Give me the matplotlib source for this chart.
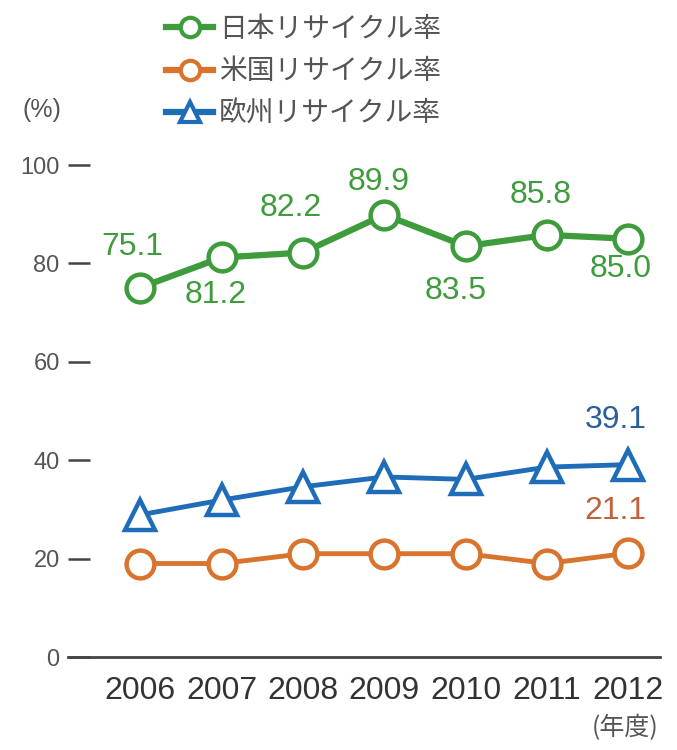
import matplotlib.pyplot as plt
from matplotlib.lines import Line2D

# データ
years = [2006, 2007, 2008, 2009, 2010, 2011, 2012]
japan = [75.1, 81.2, 82.2, 89.9, 83.5, 85.8, 85.0]
usa = [19.0, 19.0, 21.0, 21.0, 21.0, 19.0, 21.1]
europe = [28.9, 31.9, 34.6, 36.6, 36.1, 38.6, 39.1]
yticks = [0, 20, 40, 60, 80, 100]

# ラベル位置 (px)
japan_offsets = [(-8, 41), (-6, -38), (-12, 45), (-6, 33), (-10, -45), (-6, 40), (-8, -30)]

green = '#3f9c3c'
orange = '#d9742e'
blue = '#1f6db8'
gray = '#555555'
sans = 'Liberation Sans'
cjk = ['Noto Sans CJK JP', 'DejaVu Sans']

fig = plt.figure(figsize=(6.77, 7.5), dpi=100)
ax = fig.add_axes([68 / 677, 1 - 657 / 750, (660 - 68) / 677, (657 - 165) / 750])

ax.plot(years, japan, color=green, lw=4.5, marker='o', ms=20, mfc='white', mec=green, mew=3.2, zorder=3)
ax.plot(years, usa, color=orange, lw=3.5, marker='o', ms=20, mfc='white', mec=orange, mew=3.2, zorder=3)
ax.plot(years, europe, color=blue, lw=3.5, marker='^', ms=21, mfc='white', mec=blue, mew=3.2, zorder=3)

for x, v, off in zip(years, japan, japan_offsets):
    ax.annotate(f'{v:.1f}', (x, v), xytext=off, textcoords='offset pixels', ha='center', va='center',
                color=green, fontsize=23, family=sans, annotation_clip=False)
ax.annotate(f'{europe[-1]:.1f}', (years[-1], europe[-1]), xytext=(-13, 45), textcoords='offset pixels',
            ha='center', va='center', color='#2a5f9e', fontsize=23, family=sans)
ax.annotate(f'{usa[-1]:.1f}', (years[-1], usa[-1]), xytext=(-13, 42), textcoords='offset pixels',
            ha='center', va='center', color='#c0623a', fontsize=23, family=sans)

ax.set_xlim(2005.11, 2012.39)
ax.set_ylim(0, 100)
ax.set_yticks(yticks)
ax.set_yticklabels([str(t) for t in yticks], family=sans, fontsize=17, color=gray)
ax.set_xticks(years)
ax.set_xticklabels([str(y) for y in years], family=sans, fontsize=23, color='#333333')
ax.tick_params(axis='y', direction='in', length=16, width=1.8, color='#444444', pad=6)
ax.tick_params(axis='x', length=0, pad=14)
for s in ['top', 'right', 'left']:
    ax.spines[s].set_visible(False)
ax.spines['bottom'].set_linewidth(2)
ax.spines['bottom'].set_color('#444444')

fig.text(42 / 677, 1 - 110 / 750, '(%)', ha='center', va='center', fontsize=18, color=gray, family=sans)
fig.text(625 / 677, 1 - 728 / 750, '(年度)', ha='center', va='center', fontsize=18, color=gray, family=cjk)

handles = [
    Line2D([], [], color=green, lw=4.5, marker='o', ms=14, mfc='white', mec=green, mew=3),
    Line2D([], [], color=orange, lw=4.5, marker='o', ms=14, mfc='white', mec=orange, mew=3),
    Line2D([], [], color=blue, lw=4.5, marker='^', ms=15, mfc='white', mec=blue, mew=3),
]
labels = ['日本リサイクル率', '米国リサイクル率', '欧州リサイクル率']
leg = fig.legend(handles, labels, loc='upper left', bbox_to_anchor=(152 / 677, 1 - 0 / 750),
                 frameon=False, prop={'family': cjk, 'size': 20}, handlelength=1.7,
                 handletextpad=0.2, labelspacing=0.45, borderpad=0)
for t in leg.get_texts():
    t.set_color(gray)

fig.savefig('out.png', dpi=100, facecolor='white')
